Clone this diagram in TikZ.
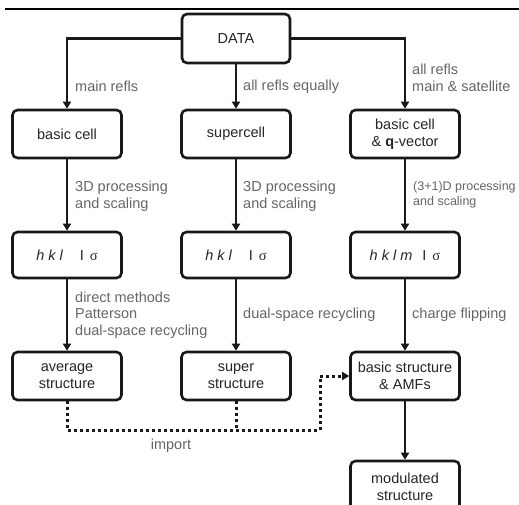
\documentclass[tikz,border=0pt]{standalone}
\usepackage{fontspec}
\setmainfont{Liberation Sans}
\newfontfamily\greekserif{Liberation Serif}
\usetikzlibrary{arrows.meta}
\begin{document}
\begin{tikzpicture}[x=1pt,y=-1pt,
  box/.style={draw=black!90, line width=2.6pt, rounded corners=5pt, align=center,
    text=black!85, font=\fontsize{14.5}{16.5}\selectfont, inner sep=0pt,
    minimum width=109pt, minimum height=48pt},
  lbl/.style={anchor=west, align=left, text=black!60, inner sep=0pt,
    font=\fontsize{14.5}{16.5}\selectfont},
  smalllbl/.style={lbl, font=\fontsize{12.5}{15}\selectfont},
  flow/.style={draw=black!90, line width=2.6pt, -{Triangle[width=8pt,length=7pt]}},
  importline/.style={draw=black!90, line width=3pt, dash pattern=on 3pt off 3pt}
]
\useasboundingbox (0,0) rectangle (519,504);
\fill[white] (0,0) rectangle (519,504);

% rule across the top
\draw[line width=2.5pt] (5,9) -- (519,9);

% boxes
\node[box, minimum width=108pt, minimum height=49pt] (data) at (236,38.5) {DATA};

\node[box] (basic) at (67,134) {basic cell};
\node[box] (super) at (236,134) {supercell};
\node[box] (bq)    at (405,134) {basic cell\\ \& \textbf{q}-vector};

\node[box, minimum height=46pt] (hkl1) at (67,255)
  {\itshape h k l\hspace{17pt}\upshape I\hspace{6pt}{\greekserif σ}};
\node[box, minimum height=46pt] (hkl2) at (236,255)
  {\itshape h k l\hspace{17pt}\upshape I\hspace{6pt}{\greekserif σ}};
\node[box, minimum height=46pt] (hkl3) at (405,255)
  {\itshape h k l m\hspace{10pt}\upshape I\hspace{6pt}{\greekserif σ}};

\node[box] (avg)  at (67,376)  {average\\ structure};
\node[box] (sstr) at (236,376) {super\\ structure};
\node[box] (bas)  at (405,376) {basic structure\\ \& AMFs};

\node[box, minimum height=52pt] (mod) at (405,487) {modulated\\ structure};

% solid flow
\draw[flow] (data.west) -| (basic.north);
\draw[flow] (data.south) -- (super.north);
\draw[flow] (data.east) -| (bq.north);

\draw[flow] (basic.south) -- (hkl1.north);
\draw[flow] (super.south) -- (hkl2.north);
\draw[flow] (bq.south) -- (hkl3.north);

\draw[flow] (hkl1.south) -- (avg.north);
\draw[flow] (hkl2.south) -- (sstr.north);
\draw[flow] (hkl3.south) -- (bas.north);

\draw[flow] (bas.south) -- (mod.north);

% import of the structure models
\coordinate (joint) at (320,430);
\draw[importline, -{Triangle[width=8pt,length=7pt]}]
  (avg.south) |- (joint) |- (bas.west);
\draw[importline] (sstr.south) -- (sstr.south |- joint);

% labels
\node[lbl] (l1) at (75,86.5) {main refls};
\node[lbl] (l2) at (243,86.5) {all refls equally};
\node[lbl] (l3) at (412,78) {all refls\\main \& satellite};

\node[lbl] (l4) at (75,196) {3D processing\\and scaling};
\node[lbl] (l5) at (243,196) {3D processing\\and scaling};
\node[smalllbl] (l6) at (413,195) {(3+1)D processing\\and scaling};

\node[lbl] (l7) at (75,315) {direct methods\\Patterson\\dual-space recycling};
\node[lbl] (l8) at (243,315) {dual-space recycling};
\node[lbl] (l9) at (412,315) {charge flipping};

\node[lbl, anchor=center] (l10) at (171,446) {import};
\end{tikzpicture}
\end{document}
